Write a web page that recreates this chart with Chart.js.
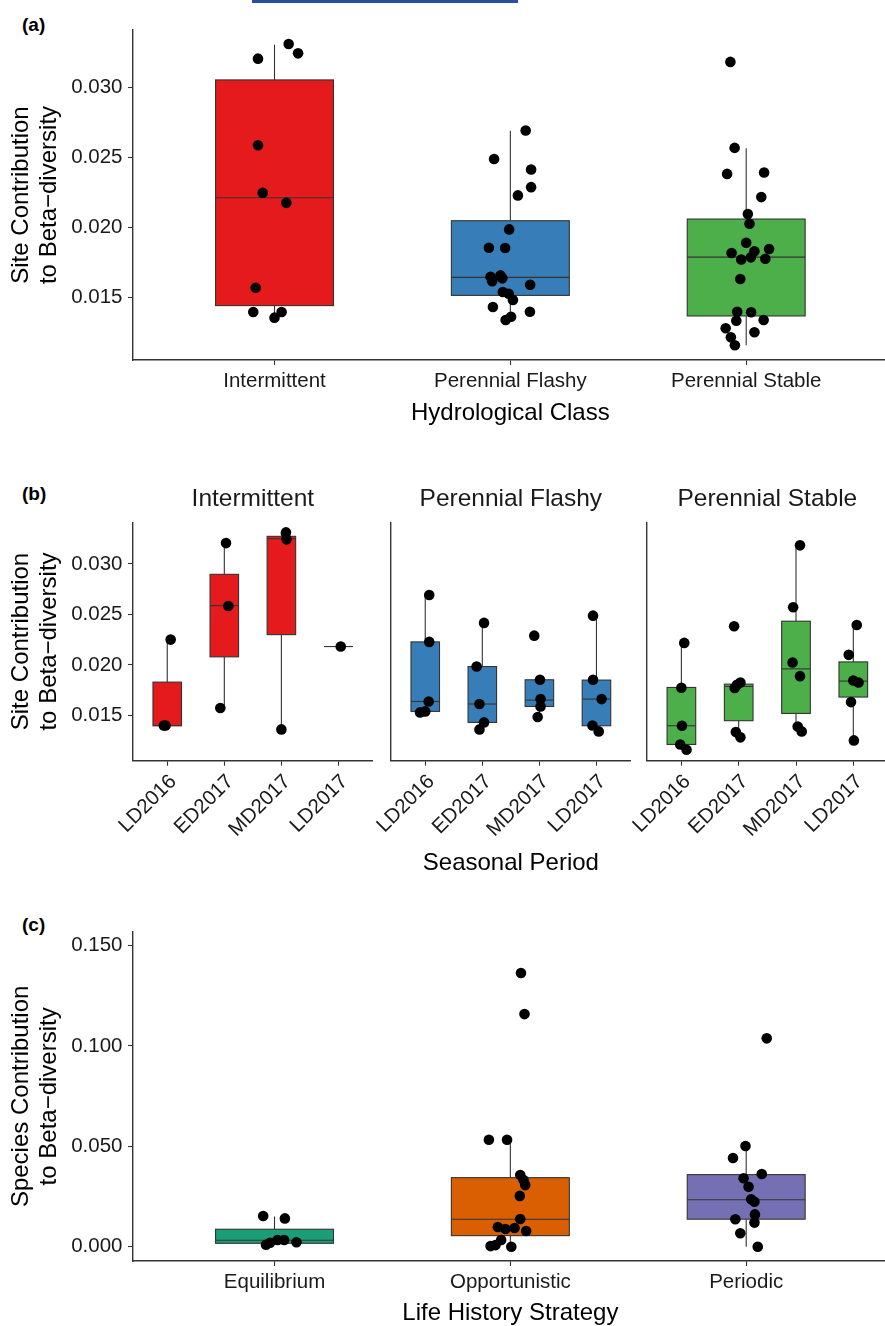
<!DOCTYPE html>
<html>
<head>
<meta charset="utf-8">
<script src="https://cdn.jsdelivr.net/npm/chart.js@4.4.0/dist/chart.umd.min.js"></script>
<style>
html, body { margin: 0; padding: 0; background: #fff; overflow: hidden; }
#page { position: relative; width: 885px; height: 1326px; overflow: hidden; font-family: 'Liberation Sans', Arial, sans-serif; }
canvas { position: absolute; }
.tag { position: absolute; font-weight: bold; font-size: 19px; line-height: 1; color: #000; }
.topbar { position: absolute; left: 252px; top: 0; width: 266px; height: 3px; background: #2a4f9e; }
</style>
</head>
<body>
<div id="page">
  <div class="topbar"></div>
  <div class="tag" style="left:22px; top:15px">(a)</div>
  <div class="tag" style="left:22px; top:484px">(b)</div>
  <div class="tag" style="left:22px; top:915px">(c)</div>
  <canvas id="chartA" width="893" height="440" style="left:0; top:0"></canvas>
  <canvas id="chartB1" width="378" height="420" style="left:0; top:470px"></canvas>
  <canvas id="chartB2" width="305" height="420" style="left:331px; top:470px"></canvas>
  <canvas id="chartB3" width="306" height="420" style="left:587px; top:470px"></canvas>
  <canvas id="chartC" width="893" height="440" style="left:0; top:890px"></canvas>
</div>
<script>
// tick labels
const yTicksSite = [0.015, 0.020, 0.025, 0.030];
const yTicksSpecies = [0.000, 0.050, 0.100, 0.150];

// (a) hydrological class
const hydroClasses = ['Intermittent', 'Perennial Flashy', 'Perennial Stable'];
const hydroColours = ['#E41A1C', '#377EB8', '#4DAF4A'];
// boxes are [low whisker, q1, median, q3, high whisker]
const aBoxes = [
    [0.01355, 0.01441, 0.02212, 0.03055, 0.03307],
    [0.01338, 0.01514, 0.01643, 0.02048, 0.02691],
    [0.01157, 0.01367, 0.01788, 0.0206, 0.02567]
];
const aIntValues = [0.03207, 0.03312, 0.03245, 0.02588, 0.02248, 0.02176, 0.01569, 0.01395, 0.01395, 0.01355];
const aIntJitter = [-0.07, 0.06, 0.10, -0.07, -0.05, 0.05, -0.08, -0.09, 0.03, 0.00];
const aFlashyValues = [0.02693, 0.02489, 0.02414, 0.02288, 0.02229, 0.01986, 0.01855, 0.01853, 0.01647, 0.01657,
    0.01636, 0.01616, 0.0159, 0.01538, 0.01526, 0.01481, 0.01431, 0.01397, 0.01361, 0.01338];
const aFlashyJitter = [0.065, -0.069, 0.088, 0.088, 0.032, -0.005, -0.091, -0.022, -0.084, -0.042,
    -0.034, -0.077, 0.084, -0.032, -0.007, 0.011, -0.074, 0.083, 0.003, -0.02];
const aStableValues = [0.03184, 0.02569, 0.02383, 0.02393, 0.02217, 0.02096, 0.02026, 0.01891, 0.01817, 0.01829,
    0.01846, 0.01786, 0.01771, 0.01776, 0.01631, 0.01397, 0.01393, 0.01333, 0.01338, 0.01279, 0.0125, 0.01214, 0.01157];
const aStableJitter = [-0.067, -0.049, -0.081, 0.076, 0.064, 0.007, 0.014, 0, -0.062, 0.035,
    0.097, 0.02, -0.021, 0.081, -0.025, -0.038, 0.021, -0.042, 0.074, -0.087, 0.035, -0.065, -0.048];

// (b) seasonal period, one facet per class
const seasons = ['LD2016', 'ED2017', 'MD2017', 'LD2017'];
const bIntBoxes = [
    [0.0140, 0.01398, 0.0140, 0.0183, 0.02251],
    [0.01573, 0.0208, 0.02587, 0.02897, 0.03206],
    [0.01362, 0.0230, 0.0325, 0.03273, 0.0331],
    [0.02182, 0.02182, 0.02182, 0.02182, 0.02182]
];
const bIntValues = [[0.02251, 0.01401, 0.01401], [0.03206, 0.02584, 0.01573], [0.03312, 0.03243, 0.01362], [0.02182]];
const bIntJitter = [[0.06, -0.06, -0.03], [0.03, 0.07, -0.07], [0.08, 0.09, 0.0], [0.04]];

const bFlashyBoxes = [
    [0.0153, 0.0154, 0.01638, 0.02228, 0.02693],
    [0.01362, 0.01431, 0.01613, 0.01984, 0.02416],
    [0.01484, 0.01589, 0.01652, 0.01853, 0.01853],
    [0.01342, 0.01398, 0.01662, 0.0185, 0.02488]
];
const bFlashyValues = [[0.02693, 0.02228, 0.01638, 0.0153, 0.0154], [0.02416, 0.01984, 0.01613, 0.01431, 0.01362],
    [0.0229, 0.01853, 0.01662, 0.01589, 0.01484], [0.02488, 0.01853, 0.01662, 0.01401, 0.01342]];
const bFlashyJitter = [[0.07, 0.07, 0.06, -0.09, 0], [0.03, -0.10, -0.05, 0.03, -0.05],
    [-0.09, 0.01, 0.02, 0.02, -0.03], [-0.06, -0.06, 0.09, -0.07, 0.04]];

const bStableBoxes = [
    [0.01161, 0.01213, 0.01398, 0.01777, 0.02218],
    [0.01283, 0.01448, 0.01787, 0.0181, 0.0181],
    [0.01342, 0.0152, 0.01961, 0.02433, 0.03184],
    [0.01253, 0.01682, 0.0184, 0.0203, 0.02396]
];
const bStableValues = [[0.02218, 0.01774, 0.01398, 0.01213, 0.01161], [0.02383, 0.01826, 0.01803, 0.01771, 0.01336, 0.01283],
    [0.03184, 0.02571, 0.02024, 0.01889, 0.01391, 0.01342], [0.02396, 0.0210, 0.01846, 0.01826, 0.01632, 0.01253]];
const bStableJitter = [[0.05, 0, 0.01, -0.02, 0.09], [-0.08, 0.03, -0.03, -0.07, -0.05, 0.03],
    [0.07, -0.05, -0.06, 0.07, 0.03, 0.10], [0.06, -0.08, 0, 0.09, -0.04, 0.01]];

// (c) life history strategy
const strategies = ['Equilibrium', 'Opportunistic', 'Periodic'];
const strategyColours = ['#1B9E77', '#D95F02', '#7570B3'];
const cBoxes = [
    [0.0008, 0.0017, 0.0032, 0.0087, 0.0150],
    [0.0, 0.0055, 0.0137, 0.0344, 0.0533],
    [0.0, 0.0137, 0.0234, 0.0359, 0.0502]
];
const cEquilValues = [0.0153, 0.0141, 0.0010, 0.0020, 0.0033, 0.0033, 0.0022];
const cEquilJitter = [-0.048, 0.044, -0.036, -0.019, 0.013, 0.041, 0.093];
const cOpportValues = [0.1364, 0.1159, 0.0533, 0.0533, 0.0357, 0.0332, 0.0307, 0.0253, 0.0138, 0.0098,
    0.0088, 0.0093, 0.0078, 0.0033, 0.0003, 0.0008, 0.0];
const cOpportJitter = [0.045, 0.06, -0.091, -0.014, 0.042, 0.056, 0.063, 0.04, 0.042, -0.053,
    -0.021, 0.018, 0.067, -0.039, -0.084, -0.063, 0.004];
const cPeriodValues = [0.1038, 0.0502, 0.0442, 0.0362, 0.0341, 0.0299, 0.0236, 0.0224, 0.0161, 0.0137, 0.0120, 0.0067, 0.0];
const cPeriodJitter = [0.087, -0.003, -0.056, 0.066, -0.011, 0.01, 0.021, 0.035, 0.037, -0.046, 0.035, -0.025, 0.049];

const FONT = "'Liberation Sans', Arial, sans-serif";
const LINE = '#333333';

// turn per-group values + jitter into scatter points
function jittered(groups, jitters) {
    const pts = [];
    groups.forEach((vals, i) => {
        vals.forEach((v, k) => pts.push({ x: i + jitters[i][k], y: v }));
    });
    return pts;
}

// draws whiskers, box and median under the points
const boxPlugin = {
    id: 'boxes',
    beforeDatasetsDraw(chart, args, opts) {
        const { ctx, scales: { x, y } } = chart;
        ctx.save();
        ctx.strokeStyle = LINE;
        ctx.lineWidth = 1.1;
        opts.boxes.forEach((b, i) => {
            const [lo, q1, med, q3, hi] = b;
            const cx = x.getPixelForValue(i);
            const left = x.getPixelForValue(i - 0.25);
            const right = x.getPixelForValue(i + 0.25);
            const top = y.getPixelForValue(q3);
            const bottom = y.getPixelForValue(q1);
            ctx.beginPath();
            ctx.moveTo(cx, y.getPixelForValue(hi));
            ctx.lineTo(cx, top);
            ctx.moveTo(cx, bottom);
            ctx.lineTo(cx, y.getPixelForValue(lo));
            ctx.stroke();
            ctx.fillStyle = opts.colours[i];
            ctx.fillRect(left, top, right - left, bottom - top);
            ctx.strokeRect(left, top, right - left, bottom - top);
            const m = y.getPixelForValue(med);
            ctx.beginPath();
            ctx.moveTo(left, m);
            ctx.lineTo(right, m);
            ctx.stroke();
        });
        ctx.restore();
    }
};

// facet strip text above the plot area
const stripPlugin = {
    id: 'strip',
    afterDraw(chart, args, opts) {
        if (!opts.text) return;
        const { ctx, chartArea } = chart;
        ctx.save();
        ctx.font = '24.5px ' + FONT;
        ctx.fillStyle = '#1a1a1a';
        ctx.textAlign = 'center';
        ctx.textBaseline = 'middle';
        ctx.fillText(opts.text, (chartArea.left + chartArea.right) / 2, chartArea.top - 23);
        ctx.restore();
    }
};

function boxChart(id, cfg) {
    const el = document.getElementById(id);
    if (!el) return;
    const n = cfg.cats.length;
    new Chart(el, {
        type: 'scatter',
        data: {
            datasets: [{
                data: cfg.points,
                pointRadius: 5.3,
                pointHoverRadius: 5.3,
                pointBackgroundColor: '#000',
                pointBorderWidth: 0
            }]
        },
        options: {
            responsive: false,
            animation: false,
            events: [],
            layout: { padding: cfg.padding },
            plugins: {
                legend: { display: false },
                tooltip: { enabled: false },
                boxes: { boxes: cfg.boxes, colours: cfg.colours },
                strip: { text: cfg.strip }
            },
            scales: {
                x: {
                    type: 'linear',
                    min: -0.6,
                    max: n - 0.4,
                    afterBuildTicks: s => { s.ticks = cfg.cats.map((c, i) => ({ value: i })); },
                    afterFit: s => { s.height = cfg.xHeight; s.paddingLeft = 0; s.paddingRight = 0; },
                    ticks: {
                        callback: v => cfg.cats[v],
                        autoSkip: false,
                        maxRotation: cfg.rotation,
                        minRotation: cfg.rotation,
                        labelOffset: cfg.rotation ? 6 : 0,
                        padding: 4,
                        color: '#1a1a1a',
                        font: { family: FONT, size: 20.5 }
                    },
                    grid: { drawOnChartArea: false, drawTicks: true, tickLength: 5, tickColor: LINE, tickWidth: 1.1 },
                    border: { display: true, color: LINE, width: 1.4 },
                    title: {
                        display: !!cfg.xTitle,
                        text: cfg.xTitle,
                        color: '#000',
                        font: { family: FONT, size: 24, lineHeight: 28 / 24 },
                        padding: { top: 0, bottom: cfg.xTitlePad }
                    }
                },
                y: {
                    type: 'linear',
                    min: cfg.yMin,
                    max: cfg.yMax,
                    afterBuildTicks: s => { s.ticks = cfg.yTicks.map(v => ({ value: v })); },
                    afterFit: s => { s.width = cfg.yWidth; s.paddingTop = 0; s.paddingBottom = 0; },
                    ticks: {
                        display: !!cfg.yTitle,
                        callback: v => v.toFixed(3),
                        padding: 5.5,
                        color: '#1a1a1a',
                        font: { family: FONT, size: 20.5 }
                    },
                    grid: {
                        drawOnChartArea: false,
                        drawTicks: !!cfg.yTitle,
                        tickLength: cfg.yTitle ? 5 : 0,
                        tickColor: LINE,
                        tickWidth: 1.1
                    },
                    border: { display: true, color: LINE, width: 1.4 },
                    title: {
                        display: !!cfg.yTitle,
                        text: cfg.yTitle,
                        color: '#000',
                        font: { family: FONT, size: 24, lineHeight: 28 / 24 },
                        padding: { top: 7.7, bottom: 0 }
                    }
                }
            }
        },
        plugins: [boxPlugin, stripPlugin]
    });
}

document.addEventListener('DOMContentLoaded', function() {
    const siteTitle = ['Site Contribution', 'to Beta\u2212diversity'];

    // (a)
    boxChart('chartA', {
        cats: hydroClasses,
        colours: hydroColours,
        boxes: aBoxes,
        points: jittered([aIntValues, aFlashyValues, aStableValues], [aIntJitter, aFlashyJitter, aStableJitter]),
        yMin: 0.01052, yMax: 0.03412, yTicks: yTicksSite,
        yWidth: 133, xHeight: 80, rotation: 0,
        padding: { top: 30, left: 0, right: 0, bottom: 0 },
        yTitle: siteTitle,
        xTitle: 'Hydrological Class', xTitlePad: 13
    });

    // (b) facets, inner ones get a wide blank y box so rotated labels are not cut
    const facet = { yMin: 0.01052, yMax: 0.03412, yTicks: yTicksSite, xHeight: 129.3, rotation: 45,
        padding: { top: 52.3, left: 0, right: 0, bottom: 0 }, cats: seasons, xTitlePad: 12.7 };
    boxChart('chartB1', Object.assign({}, facet, {
        colours: Array(4).fill(hydroColours[0]), boxes: bIntBoxes,
        points: jittered(bIntValues, bIntJitter),
        yWidth: 133, yTitle: siteTitle, strip: 'Intermittent'
    }));
    boxChart('chartB2', Object.assign({}, facet, {
        colours: Array(4).fill(hydroColours[1]), boxes: bFlashyBoxes,
        points: jittered(bFlashyValues, bFlashyJitter),
        yWidth: 60, strip: 'Perennial Flashy', xTitle: 'Seasonal Period'
    }));
    boxChart('chartB3', Object.assign({}, facet, {
        colours: Array(4).fill(hydroColours[2]), boxes: bStableBoxes,
        points: jittered(bStableValues, bStableJitter),
        yWidth: 60, strip: 'Perennial Stable'
    }));

    // (c)
    boxChart('chartC', {
        cats: strategies,
        colours: strategyColours,
        boxes: cBoxes,
        points: jittered([cEquilValues, cOpportValues, cPeriodValues], [cEquilJitter, cOpportJitter, cPeriodJitter]),
        yMin: -0.00713, yMax: 0.15695, yTicks: yTicksSpecies,
        yWidth: 133, xHeight: 69, rotation: 0,
        padding: { top: 41.7, left: 0, right: 0, bottom: 0 },
        yTitle: ['Species Contribution', 'to Beta\u2212diversity'],
        xTitle: 'Life History Strategy', xTitlePad: 3
    });
});
</script>
</body>
</html>
